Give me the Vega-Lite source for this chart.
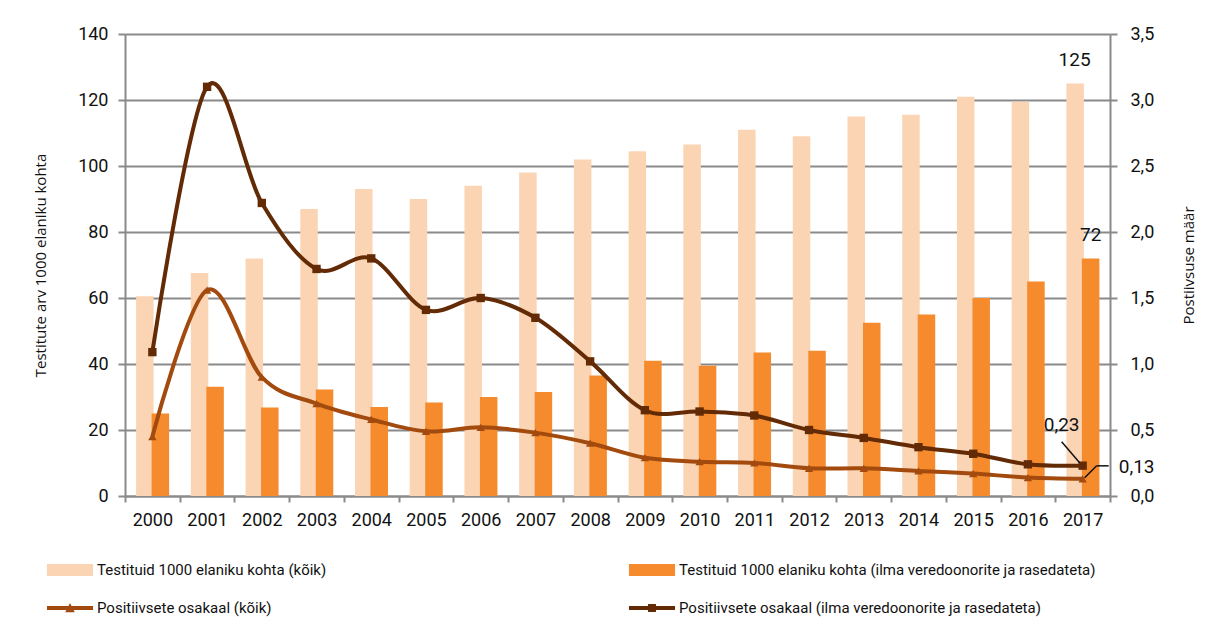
{
  "$schema": "https://vega.github.io/schema/vega-lite/v6.json",
  "autosize": {"type": "none"},
  "padding": {"left": 125, "top": 34, "right": 96, "bottom": 136},
  "width": 985,
  "height": 462,
  "background": "white",
  "config": {
    "font": "Roboto",
    "view": {"stroke": null},
    "locale": {"number": {"decimal": ",", "thousands": " ", "grouping": [3], "currency": ["", " €"]}},
    "axis": {"labelFont": "Roboto", "labelFontSize": 18, "labelColor": "#111", "domainColor": "#8a8a8a", "domainWidth": 2, "tickColor": "#8a8a8a", "tickWidth": 2, "gridColor": "#8a8a8a", "gridWidth": 2, "titleFont": "Open Sans", "titleFontSize": 15, "titleFontWeight": "normal", "titleColor": "#111"}
  },
  "data": {"values": [
    {"year": "2000", "t_all": 60.5, "t_ex": 25, "p_all": 0.45, "p_ex": 1.09},
    {"year": "2001", "t_all": 67.6, "t_ex": 33.1, "p_all": 1.56, "p_ex": 3.10},
    {"year": "2002", "t_all": 72, "t_ex": 26.8, "p_all": 0.90, "p_ex": 2.22},
    {"year": "2003", "t_all": 87, "t_ex": 32.3, "p_all": 0.70, "p_ex": 1.72},
    {"year": "2004", "t_all": 93, "t_ex": 27, "p_all": 0.58, "p_ex": 1.80},
    {"year": "2005", "t_all": 90, "t_ex": 28.3, "p_all": 0.49, "p_ex": 1.41},
    {"year": "2006", "t_all": 94, "t_ex": 30, "p_all": 0.52, "p_ex": 1.50},
    {"year": "2007", "t_all": 98, "t_ex": 31.5, "p_all": 0.48, "p_ex": 1.35},
    {"year": "2008", "t_all": 102, "t_ex": 36.5, "p_all": 0.40, "p_ex": 1.02},
    {"year": "2009", "t_all": 104.5, "t_ex": 41, "p_all": 0.29, "p_ex": 0.65},
    {"year": "2010", "t_all": 106.5, "t_ex": 39.5, "p_all": 0.26, "p_ex": 0.64},
    {"year": "2011", "t_all": 111, "t_ex": 43.5, "p_all": 0.25, "p_ex": 0.61},
    {"year": "2012", "t_all": 109, "t_ex": 44, "p_all": 0.21, "p_ex": 0.50},
    {"year": "2013", "t_all": 115, "t_ex": 52.5, "p_all": 0.21, "p_ex": 0.44},
    {"year": "2014", "t_all": 115.5, "t_ex": 55, "p_all": 0.19, "p_ex": 0.37},
    {"year": "2015", "t_all": 121, "t_ex": 60, "p_all": 0.17, "p_ex": 0.32},
    {"year": "2016", "t_all": 119.5, "t_ex": 65, "p_all": 0.14, "p_ex": 0.24},
    {"year": "2017", "t_all": 125, "t_ex": 72, "p_all": 0.13, "p_ex": 0.23}
  ]},
  "encoding": {
    "x": {"field": "year", "type": "ordinal", "title": null,
      "scale": {"paddingInner": 0, "paddingOuter": 0},
      "axis": {"labelAngle": 0, "tickBand": "extent", "tickSize": 6, "labelPadding": 9, "grid": false}}
  },
  "layer": [
    {
      "layer": [
        {
          "mark": {"type": "bar", "width": 17.5, "xOffset": -7.5},
          "encoding": {
            "y": {"field": "t_all", "type": "quantitative", "scale": {"domain": [0, 140], "nice": false},
              "axis": {"orient": "left", "values": [0, 20, 40, 60, 80, 100, 120, 140], "tickSize": 7, "labelPadding": 10, "grid": true, "title": "Testitute arv 1000 elaniku kohta", "titlePadding": 29}},
            "color": {"datum": "Testituid 1000 elaniku kohta (kõik)",
              "scale": {"domain": ["Testituid 1000 elaniku kohta (kõik)", "Testituid 1000 elaniku kohta (ilma veredoonorite ja rasedateta)", "Positiivsete osakaal (kõik)", "Positiivsete osakaal (ilma veredoonorite ja rasedateta)"],
                "range": ["#fbd4b4", "#f68b2d", "#a34a0e", "#622a05"]},
              "legend": {"title": null, "orient": "none", "legendX": -67, "legendY": 524, "direction": "horizontal", "columns": 2, "columnPadding": 301, "rowPadding": 18, "padding": 0, "symbolSize": 576, "labelOffset": 15, "labelFontSize": 15, "labelFont": "Roboto", "labelColor": "#111", "labelLimit": 600,
                "encode": {"symbols": {"update": {
                  "shape": {"signal": "indexof(datum.value, 'Testituid') === 0 ? 'M-1.92,-0.5H1.92V0.5H-1.92Z' : (indexof(datum.value, 'kõik') >= 0 ? 'M-1.92,-0.17H1.92V0.17H-1.92Z M-0.4,0.35L0,-0.42L0.4,0.35Z' : 'M-1.92,-0.17H1.92V0.17H-1.92Z M-0.33,-0.33H0.33V0.33H-0.33Z')"},
                  "fill": {"scale": "color", "field": "value"},
                  "strokeWidth": {"value": 0},
                  "opacity": {"value": 1},
                  "fillOpacity": {"value": 1}
                }}}}}
          }
        },
        {
          "mark": {"type": "bar", "width": 17.5, "xOffset": 8},
          "encoding": {
            "y": {"field": "t_ex", "type": "quantitative", "scale": {"domain": [0, 140], "nice": false},
              "axis": {"orient": "left", "values": [0, 20, 40, 60, 80, 100, 120, 140], "tickSize": 7, "labelPadding": 10, "grid": true, "title": "Testitute arv 1000 elaniku kohta", "titlePadding": 29}},
            "color": {"datum": "Testituid 1000 elaniku kohta (ilma veredoonorite ja rasedateta)"}
          }
        },
        {
          "transform": [{"filter": "datum.year === '2017'"}],
          "mark": {"type": "text", "dx": -8, "dy": -24, "fontSize": 19, "color": "#111"},
          "encoding": {
            "y": {"field": "t_all", "type": "quantitative", "scale": {"domain": [0, 140], "nice": false},
              "axis": {"orient": "left", "values": [0, 20, 40, 60, 80, 100, 120, 140], "tickSize": 7, "labelPadding": 10, "grid": true, "title": "Testitute arv 1000 elaniku kohta", "titlePadding": 29}},
            "text": {"field": "t_all", "type": "quantitative", "format": ".0f"}
          }
        },
        {
          "transform": [{"filter": "datum.year === '2017'"}],
          "mark": {"type": "text", "dx": 8, "dy": -23, "fontSize": 19, "color": "#111"},
          "encoding": {
            "y": {"field": "t_ex", "type": "quantitative", "scale": {"domain": [0, 140], "nice": false},
              "axis": {"orient": "left", "values": [0, 20, 40, 60, 80, 100, 120, 140], "tickSize": 7, "labelPadding": 10, "grid": true, "title": "Testitute arv 1000 elaniku kohta", "titlePadding": 29}},
            "text": {"field": "t_ex", "type": "quantitative", "format": ".0f"}
          }
        }
      ]
    },
    {
      "layer": [
        {
          "mark": {"type": "line", "interpolate": "cardinal", "strokeWidth": 4},
          "encoding": {
            "y": {"field": "p_all", "type": "quantitative", "scale": {"domain": [0, 3.5], "nice": false},
              "axis": {"orient": "right", "values": [0, 0.5, 1, 1.5, 2, 2.5, 3, 3.5], "format": ".1f", "tickSize": 7, "labelPadding": 13, "grid": false, "title": "Postiivsuse määr", "titleAngle": 270, "titlePadding": 43}},
            "color": {"datum": "Positiivsete osakaal (kõik)"}
          }
        },
        {
          "mark": {"type": "point", "shape": "triangle-up", "filled": true, "size": 70, "opacity": 1, "color": "#a34a0e"},
          "encoding": {
            "y": {"field": "p_all", "type": "quantitative", "scale": {"domain": [0, 3.5], "nice": false},
              "axis": {"orient": "right", "values": [0, 0.5, 1, 1.5, 2, 2.5, 3, 3.5], "format": ".1f", "tickSize": 7, "labelPadding": 13, "grid": false, "title": "Postiivsuse määr", "titleAngle": 270, "titlePadding": 43}}
          }
        },
        {
          "mark": {"type": "line", "interpolate": "cardinal", "strokeWidth": 4},
          "encoding": {
            "y": {"field": "p_ex", "type": "quantitative", "scale": {"domain": [0, 3.5], "nice": false},
              "axis": {"orient": "right", "values": [0, 0.5, 1, 1.5, 2, 2.5, 3, 3.5], "format": ".1f", "tickSize": 7, "labelPadding": 13, "grid": false, "title": "Postiivsuse määr", "titleAngle": 270, "titlePadding": 43}},
            "color": {"datum": "Positiivsete osakaal (ilma veredoonorite ja rasedateta)"}
          }
        },
        {
          "mark": {"type": "point", "shape": "square", "filled": true, "size": 70, "opacity": 1, "color": "#622a05"},
          "encoding": {
            "y": {"field": "p_ex", "type": "quantitative", "scale": {"domain": [0, 3.5], "nice": false},
              "axis": {"orient": "right", "values": [0, 0.5, 1, 1.5, 2, 2.5, 3, 3.5], "format": ".1f", "tickSize": 7, "labelPadding": 13, "grid": false, "title": "Postiivsuse määr", "titleAngle": 270, "titlePadding": 43}}
          }
        },
        {
          "transform": [{"filter": "datum.year === '2017'"}],
          "mark": {"type": "rule", "color": "#111", "strokeWidth": 1.5, "xOffset": -21, "yOffset": -24, "x2Offset": -3, "y2Offset": -3},
          "encoding": {
            "y": {"field": "p_ex", "type": "quantitative", "scale": {"domain": [0, 3.5], "nice": false},
              "axis": {"orient": "right", "values": [0, 0.5, 1, 1.5, 2, 2.5, 3, 3.5], "format": ".1f", "tickSize": 7, "labelPadding": 13, "grid": false, "title": "Postiivsuse määr", "titleAngle": 270, "titlePadding": 43}},
            "x2": {"field": "year"},
            "y2": {"field": "p_ex"}
          }
        },
        {
          "transform": [{"filter": "datum.year === '2017'"}],
          "mark": {"type": "rule", "color": "#111", "strokeWidth": 1.5, "xOffset": 2, "yOffset": -1, "x2Offset": 14, "y2Offset": -13},
          "encoding": {
            "y": {"field": "p_all", "type": "quantitative", "scale": {"domain": [0, 3.5], "nice": false},
              "axis": {"orient": "right", "values": [0, 0.5, 1, 1.5, 2, 2.5, 3, 3.5], "format": ".1f", "tickSize": 7, "labelPadding": 13, "grid": false, "title": "Postiivsuse määr", "titleAngle": 270, "titlePadding": 43}},
            "x2": {"field": "year"},
            "y2": {"field": "p_all"}
          }
        },
        {
          "transform": [{"filter": "datum.year === '2017'"}],
          "mark": {"type": "rule", "color": "#111", "strokeWidth": 1.5, "xOffset": 14, "yOffset": -13, "x2Offset": 26, "y2Offset": -13},
          "encoding": {
            "y": {"field": "p_all", "type": "quantitative", "scale": {"domain": [0, 3.5], "nice": false},
              "axis": {"orient": "right", "values": [0, 0.5, 1, 1.5, 2, 2.5, 3, 3.5], "format": ".1f", "tickSize": 7, "labelPadding": 13, "grid": false, "title": "Postiivsuse määr", "titleAngle": 270, "titlePadding": 43}},
            "x2": {"field": "year"},
            "y2": {"field": "p_all"}
          }
        },
        {
          "transform": [{"filter": "datum.year === '2017'"}],
          "mark": {"type": "text", "dx": -21, "dy": -41, "fontSize": 19, "color": "#111"},
          "encoding": {
            "y": {"field": "p_ex", "type": "quantitative", "scale": {"domain": [0, 3.5], "nice": false},
              "axis": {"orient": "right", "values": [0, 0.5, 1, 1.5, 2, 2.5, 3, 3.5], "format": ".1f", "tickSize": 7, "labelPadding": 13, "grid": false, "title": "Postiivsuse määr", "titleAngle": 270, "titlePadding": 43}},
            "text": {"field": "p_ex", "type": "quantitative", "format": ".2f"}
          }
        },
        {
          "transform": [{"filter": "datum.year === '2017'"}],
          "mark": {"type": "text", "dx": 54, "dy": -12, "fontSize": 19, "color": "#111"},
          "encoding": {
            "y": {"field": "p_all", "type": "quantitative", "scale": {"domain": [0, 3.5], "nice": false},
              "axis": {"orient": "right", "values": [0, 0.5, 1, 1.5, 2, 2.5, 3, 3.5], "format": ".1f", "tickSize": 7, "labelPadding": 13, "grid": false, "title": "Postiivsuse määr", "titleAngle": 270, "titlePadding": 43}},
            "text": {"field": "p_all", "type": "quantitative", "format": ".2f"}
          }
        }
      ]
    }
  ],
  "resolve": {"scale": {"y": "independent"}}
}
